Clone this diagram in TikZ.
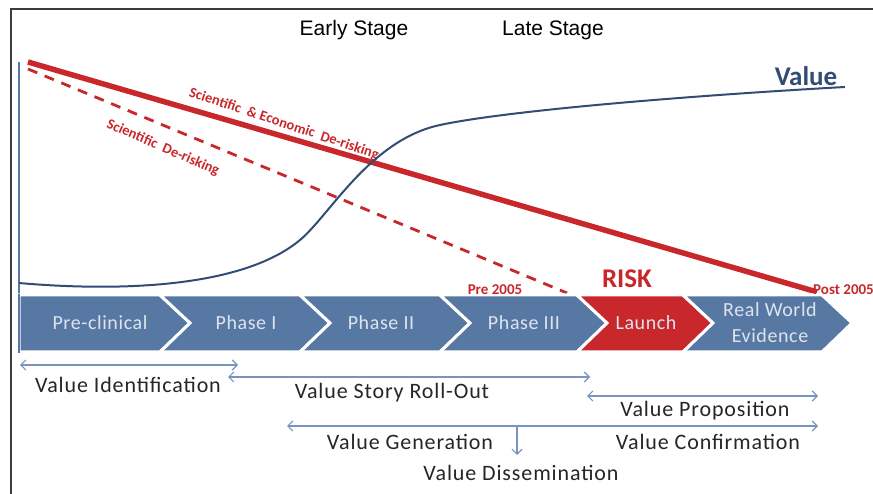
\documentclass[tikz,border=0pt]{standalone}
\usepackage{fontspec}
\setmainfont{Carlito}
\newfontfamily\arialfont{Liberation Sans}
\newfontfamily\spanfont[LetterSpace=4]{Carlito}
\newfontfamily\phasefont[LetterSpace=3]{Carlito}
\usetikzlibrary{arrows.meta}
\definecolor{slate}{RGB}{88,120,164}
\definecolor{riskred}{RGB}{200,40,44}
\definecolor{valueblue}{RGB}{50,76,116}
\definecolor{arrowblue}{RGB}{120,148,190}
\definecolor{chevtext}{RGB}{222,228,238}
\definecolor{framegray}{RGB}{60,60,60}

\begin{document}
\begin{tikzpicture}[x=1pt,y=-1pt]
  \tikzset{chevron/.style={draw=white,line width=3pt,line join=miter},
    phase/.style={text=chevtext,font=\phasefont\fontsize{20}{26}\selectfont,align=center},
    span/.style={draw=arrowblue,line width=1.2pt,
      {Straight Barb[length=5pt,width=10pt]}-{Straight Barb[length=5pt,width=10pt]}},
    spanlabel/.style={font=\spanfont\fontsize{22}{24}\selectfont,text=black!85},
    stage/.style={font=\arialfont\fontsize{21}{24}\selectfont},
    risklabel/.style={text=riskred,font=\bfseries\fontsize{14.5}{16}\selectfont}}
  \useasboundingbox (0,0) rectangle (873,494);
  \draw[framegray,line width=1.8pt] (873,9) -- (11,9) -- (11,494);

  \node[stage] (early) at (354,30) {Early Stage};
  \node[stage] (late) at (553,30) {Late Stage};

  % axis and risk lines
  \draw[slate,line width=1.5pt] (19,62) -- (19,296);
  \draw[riskred,line width=2.8pt,dash pattern=on 10pt off 8pt] (28,69) -- (567,293);
  \draw[riskred,line width=5.5pt] (28,62) -- (817,292);
  \node[risklabel,rotate=-18.5] (econ) at (284,124) {Scientific \ \& Economic \ De-risking};
  \node[risklabel,rotate=-23.5] (sci) at (163,148) {Scientific \ De-risking};

  % value curve
  \draw[valueblue,line width=2pt] (19,283) .. controls (110,291) and (240,290) .. (300,240)
    .. controls (330,215) and (370,140) .. (440,125)
    .. controls (510,110) and (700,95) .. (845,87);
  \node[text=valueblue,font=\bfseries\fontsize{27}{30}\selectfont] (value) at (806,76) {Value};

  % phases
  \fill[slate,chevron] (19,295) -- (160,295) -- (190,323) -- (160,352) -- (19,352) -- cycle;
  \foreach \xl/\xr/\col in {160/300/slate,300/440/slate,440/577/slate,577/683/riskred,683/822/slate}
    \filldraw[fill=\col,chevron] (\xl,295) -- (\xr,295) -- (\xr+30,323) -- (\xr,352)
      -- (\xl,352) -- (\xl+30,323) -- cycle;
  \draw[slate,line width=1.5pt] (19,294) -- (19,353);
  \node[phase] (pre) at (100,323) {Pre-clinical};
  \node[phase] (ph1) at (246,323) {Phase I};
  \node[phase] (ph2) at (381,323) {Phase II};
  \node[phase] (ph3) at (524,323) {Phase III};
  \node[phase] (launch) at (646,323) {Launch};
  \node[phase] (rwe) at (770,323) {Real World\\Evidence};

  \node[text=riskred,font=\bfseries\fontsize{27}{30}\selectfont] (risk) at (627,279) {RISK};
  \node[text=riskred,font=\bfseries\fontsize{15}{16}\selectfont] (pre05) at (495,290) {Pre 2005};
  \node[text=riskred,font=\bfseries\fontsize{15}{16}\selectfont,anchor=west,inner sep=0pt] (post05) at (813,290) {Post 2005};

  % value spans
  \coordinate (idL) at (20,365);
  \coordinate (idR) at (238,365);
  \coordinate (rollL) at (228,377);
  \coordinate (rollR) at (590,377);
  \coordinate (propL) at (587,396);
  \coordinate (propR) at (818,396);
  \coordinate (genL) at (287,426);
  \coordinate (genR) at (818,426);
  \coordinate (split) at (517,426);
  \coordinate (dissem) at (517,455);
  \draw[span] (idL) -- (idR);
  \draw[span] (rollL) -- (rollR);
  \draw[span] (propL) -- (propR);
  \draw[span] (genL) -- (genR);
  \draw[draw=arrowblue,line width=1.2pt,-{Straight Barb[length=5pt,width=10pt]}] (split) -- (dissem);

  \node[spanlabel] (ident) at (128,385) {Value Identification};
  \node[spanlabel] (story) at (392,393) {Value Story Roll-Out};
  \node[spanlabel] (prop) at (705,411) {Value Proposition};
  \node[spanlabel] (gen) at (410,442) {Value Generation};
  \node[spanlabel] (conf) at (708,442) {Value Confirmation};
  \node[spanlabel] (diss) at (521,473) {Value Dissemination};
\end{tikzpicture}
\end{document}
